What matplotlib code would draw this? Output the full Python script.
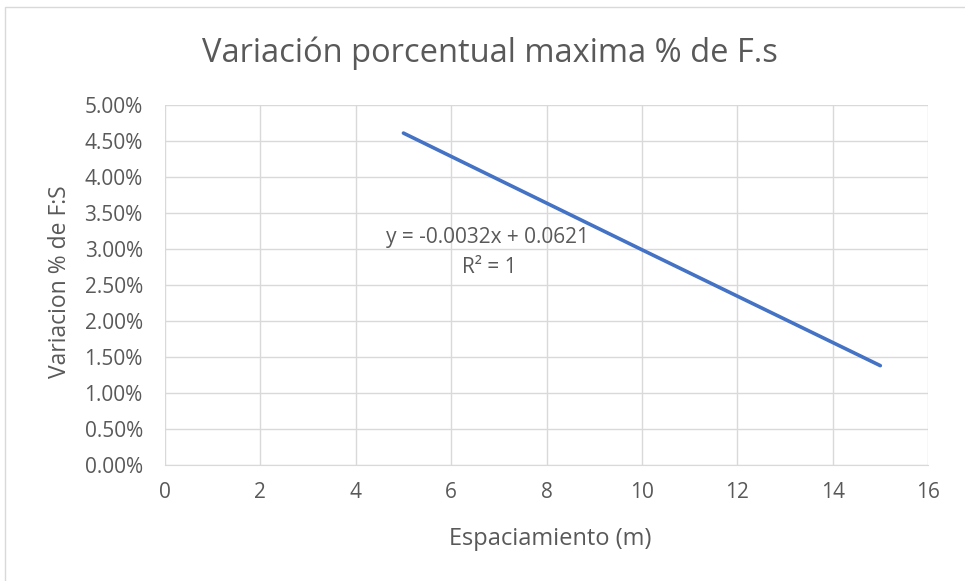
import matplotlib
matplotlib.use("Agg")
import matplotlib.pyplot as plt
from matplotlib.patches import Rectangle
from matplotlib.ticker import PercentFormatter

# datos
espaciamiento = [5, 10, 15]
variacion = [0.0461, 0.0299, 0.0138]
x_ticks = [0, 2, 4, 6, 8, 10, 12, 14, 16]
y_ticks = [0.0, 0.005, 0.01, 0.015, 0.02, 0.025, 0.03, 0.035, 0.04, 0.045, 0.05]

titulo = "Variación porcentual maxima % de F.s"
etiqueta_x = "Espaciamiento (m)"
etiqueta_y = "Variacion % de F:S"
ecuacion = "y = -0.0032x + 0.0621"
r2 = "R² = 1"

gris = "#595959"
plt.rcParams["font.family"] = ["Open Sans", "DejaVu Sans"]

W, H = 965, 581
fig = plt.figure(figsize=(W / 100, H / 100), dpi=100)
ax = fig.add_axes([165 / W, 1 - 465 / H, (928 - 165) / W, (465 - 105) / H])

# marco del grafico
fig.patches.append(Rectangle((5 / W, -0.05), 1.1, 1 - 7 / H + 0.05,
                             transform=fig.transFigure, fill=False,
                             edgecolor="#d9d9d9", linewidth=1))

ax.plot(espaciamiento, variacion, color="#4472C4", linewidth=2.6,
        solid_capstyle="round")

ax.set_xlim(0, 16)
ax.set_ylim(0, 0.05)
ax.set_xticks(x_ticks)
ax.set_yticks(y_ticks)
ax.yaxis.set_major_formatter(PercentFormatter(1.0, decimals=2))

ax.grid(True, color="#d9d9d9", linewidth=1)
ax.set_axisbelow(True)
for s in ["top", "right", "left"]:
    ax.spines[s].set_visible(False)
ax.spines["bottom"].set_color("#d9d9d9")
ax.tick_params(length=0, labelsize=15, colors=gris)
ax.tick_params(axis="x", pad=12)
ax.tick_params(axis="y", pad=16)

# titulo y etiquetas de ejes
fig.text(490 / W, 1 - 62 / H, titulo, fontsize=23.5, color=gris,
         ha="center", va="baseline")
fig.text(550 / W, 1 - 545 / H, etiqueta_x, fontsize=17, color=gris,
         ha="center", va="baseline")
fig.text(60 / W, 1 - 282 / H, etiqueta_y, fontsize=16.5, color=gris,
         ha="center", va="center", rotation=90)

# ecuacion de la linea de tendencia
ax.text(6.76, 0.0308, ecuacion, fontsize=15, color=gris, ha="center", va="baseline")
ax.text(6.8, 0.0267, r2, fontsize=15, color=gris, ha="center", va="baseline")

fig.savefig("out.png", dpi=100)
